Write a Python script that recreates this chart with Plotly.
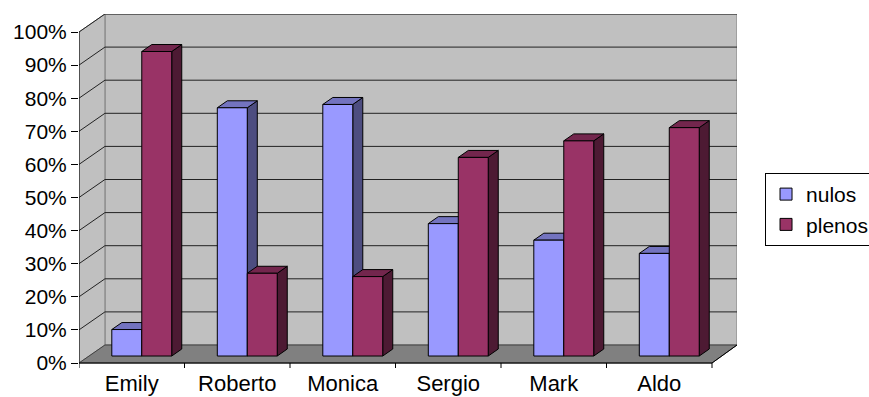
import plotly.graph_objects as go

# ---- data ----
categories = ["Emily", "Roberto", "Monica", "Sergio", "Mark", "Aldo"]
nulos = [8, 75, 76, 40, 35, 31]
plenos = [92, 25, 24, 60, 65, 69]
y_ticks = [0, 10, 20, 30, 40, 50, 60, 70, 80, 90, 100]
y_tick_labels = [f"{v}%" for v in y_ticks]

# ---- styling / geometry ----
FONT = "Liberation Sans, Arial, sans-serif"
X_MIN, X_MAX = -0.5, 5.737
Y_MIN, Y_MAX = -1.51, 105.44
WALL_DX, WALL_DY = 0.246, 5.44      # depth of the 3D box
BAR_X0, BAR_Y0 = 0.095, 2.11        # bar front plane offset
BAR_DX, BAR_DY = 0.095, 2.11        # bar depth
BAR_W = 0.284

series = [
    dict(name="nulos", values=nulos, front="#9999FF", top="#7373BF", side="#4D4D80", sign=-1),
    dict(name="plenos", values=plenos, front="#993366", top="#73264D", side="#4D1A33", sign=1),
]

fig = go.Figure()

for k, s in enumerate(series):
    xs = [i + BAR_X0 + s["sign"] * BAR_W / 2 for i in range(len(categories))]
    # side and top faces
    for xc, v in zip(xs, s["values"]):
        xl, xr = xc - BAR_W / 2, xc + BAR_W / 2
        yb, yt = BAR_Y0, BAR_Y0 + v
        fig.add_trace(go.Scatter(
            x=[xr, xr, xr + BAR_DX, xr + BAR_DX, xr],
            y=[yb, yt, yt + BAR_DY, yb + BAR_DY, yb],
            mode="lines", fill="toself", fillcolor=s["side"],
            line=dict(color="#000000", width=1), showlegend=False,
            hoverinfo="skip", zorder=2 * k))
        fig.add_trace(go.Scatter(
            x=[xl, xr, xr + BAR_DX, xl + BAR_DX, xl],
            y=[yt, yt, yt + BAR_DY, yt + BAR_DY, yt],
            mode="lines", fill="toself", fillcolor=s["top"],
            line=dict(color="#000000", width=1), showlegend=False,
            hoverinfo="skip", zorder=2 * k))
    # front faces
    fig.add_trace(go.Bar(
        x=xs, y=s["values"], base=BAR_Y0, width=BAR_W, name=s["name"],
        marker=dict(color=s["front"], line=dict(color="#000000", width=1)),
        legendgroup=s["name"], zorder=2 * k + 1))

# ---- walls, floor, gridlines ----
shapes = []
xb = X_MIN + WALL_DX
front_right = len(categories) - 0.5
# back wall
shapes.append(dict(type="rect", xref="x", yref="y", x0=xb, x1=X_MAX, y0=WALL_DY, y1=100 + WALL_DY,
                   fillcolor="#C0C0C0", line=dict(color="#808080", width=1), layer="below"))
# side wall
shapes.append(dict(type="path", xref="x", yref="y",
                   path=f"M{X_MIN},0 L{xb},{WALL_DY} L{xb},{100 + WALL_DY} L{X_MIN},100 Z",
                   fillcolor="#C0C0C0", line=dict(color="#808080", width=1), layer="below"))
# floor
shapes.append(dict(type="path", xref="x", yref="y",
                   path=f"M{X_MIN},0 L{front_right},0 L{X_MAX},{WALL_DY} L{xb},{WALL_DY} Z",
                   fillcolor="#808080", line=dict(color="#404040", width=1), layer="below"))
# gridlines
for v in y_ticks[1:]:
    shapes.append(dict(type="line", xref="x", yref="y", x0=xb, x1=X_MAX, y0=v + WALL_DY, y1=v + WALL_DY,
                       line=dict(color="#222222", width=1), layer="below"))
    shapes.append(dict(type="line", xref="x", yref="y", x0=X_MIN, x1=xb, y0=v, y1=v + WALL_DY,
                       line=dict(color="#222222", width=1), layer="below"))
# axis lines
shapes.append(dict(type="line", xref="x", yref="y", x0=X_MIN, x1=X_MIN, y0=0, y1=100,
                   line=dict(color="#000000", width=1)))
shapes.append(dict(type="line", xref="x", yref="y", x0=X_MIN, x1=front_right, y0=0, y1=0,
                   line=dict(color="#000000", width=1)))
shapes.append(dict(type="line", xref="x", yref="y", x0=front_right, x1=X_MAX, y0=0, y1=WALL_DY,
                   line=dict(color="#000000", width=1)))
# category boundary ticks
for i in range(len(categories) + 1):
    xv = i - 0.5
    shapes.append(dict(type="line", xref="x", yref="y", x0=xv, x1=xv, y0=0, y1=Y_MIN,
                       line=dict(color="#000000", width=1)))

fig.update_layout(
    width=869, height=397,
    margin=dict(l=79, r=132, t=14, b=29, autoexpand=False),
    paper_bgcolor="#FFFFFF", plot_bgcolor="rgba(0,0,0,0)",
    barmode="overlay",
    shapes=shapes,
    font=dict(family=FONT, color="#000000"),
    showlegend=True,
    legend=dict(x=1.0426, y=0.551, xanchor="left", yanchor="top",
                bgcolor="#FFFFFF", bordercolor="#000000", borderwidth=1,
                font=dict(family=FONT, size=21, color="#000000"),
                tracegroupgap=8, traceorder="normal"),
    xaxis=dict(range=[X_MIN, X_MAX], tickvals=list(range(len(categories))), ticktext=categories,
               showgrid=False, zeroline=False, showline=False, ticks="",
               tickfont=dict(family=FONT, size=22, color="#000000")),
    yaxis=dict(range=[Y_MIN, Y_MAX], tickvals=y_ticks, ticktext=y_tick_labels,
               showgrid=False, zeroline=False, showline=False, ticks="outside", ticklen=7,
               tickcolor="#000000", tickwidth=1,
               tickfont=dict(family=FONT, size=21, color="#000000")),
)

fig.write_html("out.html")
